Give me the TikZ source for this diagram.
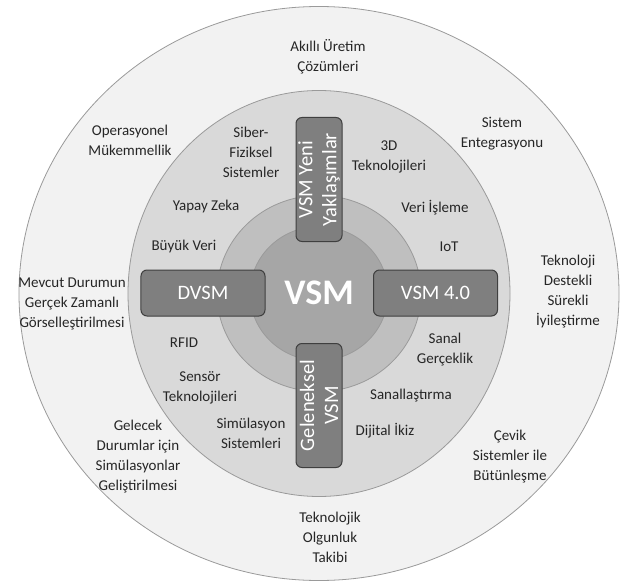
\documentclass[tikz,border=0pt]{standalone}
\usepackage{fontspec}
\setmainfont{Carlito}
\usepackage{tikz}
\definecolor{Ink}{HTML}{262626}
\definecolor{Edge}{HTML}{9A9A9A}
\definecolor{PaleGrey}{HTML}{F2F2F2}
\definecolor{LightGrey}{HTML}{D9D9D9}
\definecolor{MidGrey}{HTML}{BFBFBF}
\definecolor{Grey}{HTML}{A6A6A6}
\definecolor{DarkGrey}{HTML}{7F7F7F}
\definecolor{Frame}{HTML}{3F3F3F}
\tikzset{
  ring/.style={draw=Edge,line width=.8pt},
  arm/.style={draw=Frame,fill=DarkGrey,rounded corners=6pt,line width=1pt,minimum width=124pt,minimum height=46pt,inner sep=1pt,text=white,align=center,font=\fontsize{20.5}{24}\selectfont},
  lbl/.style={text=Ink,align=center,inner sep=0pt,font=\fontsize{15}{20}\selectfont},
  hub/.style={text=white,inner sep=0pt,font=\fontsize{36}{40}\selectfont\bfseries},
}

\begin{document}
\begin{tikzpicture}[x=1pt,y=1pt]
        \useasboundingbox (-319,-287.5) rectangle (301,293.5);
        \fill[ring,fill=PaleGrey] (0,0) ellipse [x radius=300,y radius=287];
        \fill[ring,fill=LightGrey] (0,0) ellipse [x radius=191,y radius=203];
        \fill[ring,fill=MidGrey] (0,0) ellipse [x radius=102,y radius=98];
        \fill[ring,fill=Grey] (0,0) ellipse [x radius=69,y radius=67];
        \node[hub] (vsm) at (0,0.5) {VSM};
        \node[arm] (dvsm) at (-116,0.5) {DVSM};
        \node[arm] (vsm40) at (116.5,0.5) {VSM 4.0};
        \node[arm,rotate=90] (yeni) at (0,114) {VSM Yeni\\Yaklaşımlar};
        \node[arm,rotate=90] (geleneksel) at (0,-112) {Geleneksel\\VSM};
        \node[lbl] (akilli) at (9,237) {Akıllı Üretim\\Çözümleri};
        \node[lbl] (operasyonel) at (-189,153.5) {Operasyonel\\Mükemmellik};
        \node[lbl] (entegrasyon) at (183,159.5) {Sistem\\Entegrasyonu};
        \node[lbl] (mevcut) at (-247,-10.5) {Mevcut Durumun\\Gerçek Zamanlı\\Görselleştirilmesi};
        \node[lbl] (surekli) at (249,2) {Teknoloji\\Destekli\\Sürekli\\İyileştirme};
        \node[lbl] (gelecek) at (-181,-163) {Gelecek\\Durumlar için\\Simülasyonlar\\Geliştirilmesi};
        \node[lbl] (cevik) at (191,-163.5) {Çevik\\Sistemler ile\\Bütünleşme};
        \node[lbl] (olgunluk) at (11,-243.5) {Teknolojik\\Olgunluk\\Takibi};
        \node[lbl] (siber) at (-68,141.5) {Siber-\\Fiziksel\\Sistemler};
        \node[lbl] (uced) at (70,136.5) {3D\\Teknolojileri};
        \node[lbl] (yapay) at (-113,86.5) {Yapay Zeka};
        \node[lbl] (veri) at (116,85.5) {Veri İşleme};
        \node[lbl] (buyuk) at (-135,47.5) {Büyük Veri};
        \node[lbl] (iot) at (130,46.5) {IoT};
        \node[lbl] (rfid) at (-135,-49.5) {RFID};
        \node[lbl] (sanal) at (126,-56) {Sanal\\Gerçeklik};
        \node[lbl] (sensor) at (-119,-94) {Sensör\\Teknolojileri};
        \node[lbl] (sanallastirma) at (92,-102.5) {Sanallaştırma};
        \node[lbl] (simulasyon) at (-68,-139.5) {Simülasyon\\Sistemleri};
        \node[lbl] (ikiz) at (66,-137.5) {Dijital İkiz};
      \end{tikzpicture}
\end{document}
